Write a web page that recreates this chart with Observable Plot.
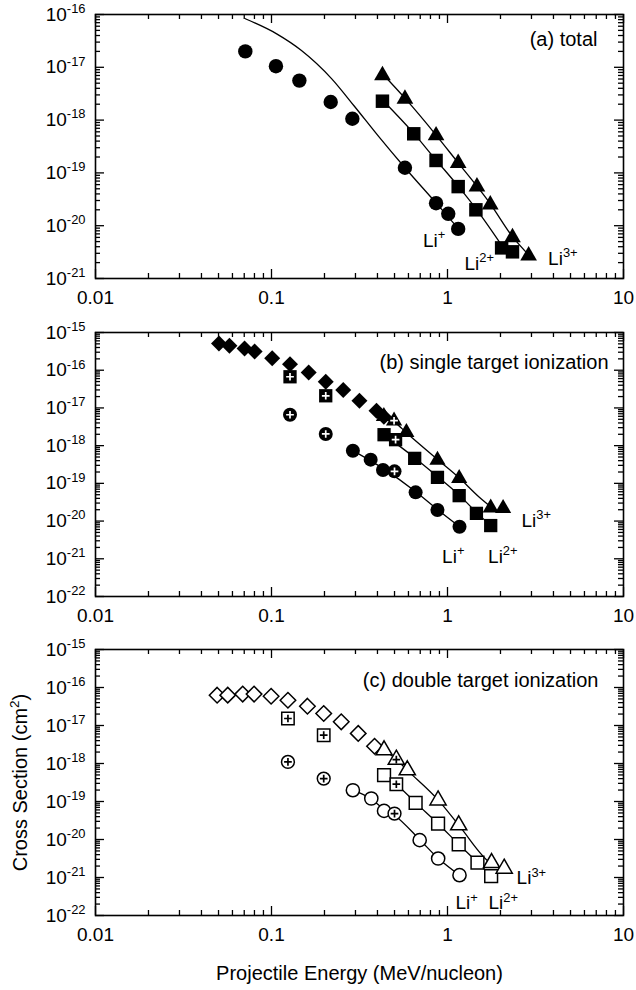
<!DOCTYPE html>
<html><head><meta charset="utf-8">
<script src="https://cdn.jsdelivr.net/npm/d3@7"></script>
<script src="https://cdn.jsdelivr.net/npm/@observablehq/plot@0.6"></script>
<style>
body{margin:0;background:#fff;overflow:hidden;}
#chart{width:636px;height:990px;}
#chart svg{display:block;}
</style></head><body><div id="chart"></div>
<script>
// ---------- axes / text ----------
const xTicks = [0.01, 0.1, 1, 10];
const xTickLabels = ["0.01", "0.1", "1", "10"];
const panelTitles = ["(a) total", "(b) single target ionization", "(c) double target ionization"];
const yDomains = [[1e-21, 1e-16], [1e-22, 1e-15], [1e-22, 1e-15]];
const xTitle = "Projectile Energy (MeV/nucleon)";
const yTitle = "Cross Section (cm^2)";
const ionLabels = ["Li^+", "Li^2+", "Li^3+"];

// ---------- panel (a) total ----------
const aLi1E = [0.071, 0.106, 0.144, 0.217, 0.288, 0.573, 0.861, 1.01, 1.15];
const aLi1S = [2.0e-17, 1.05e-17, 5.6e-18, 2.2e-18, 1.06e-18, 1.25e-19, 2.67e-20, 1.68e-20, 8.7e-21];
const aLi2E = [0.427, 0.643, 0.861, 1.15, 1.45, 2.03, 2.34];
const aLi2S = [2.28e-18, 5.5e-19, 1.72e-19, 5.5e-20, 2.0e-20, 3.8e-21, 3.2e-21];
const aLi3E = [0.427, 0.573, 0.861, 1.15, 1.47, 1.75, 2.34, 2.89];
const aLi3S = [7.0e-18, 2.53e-18, 5.1e-19, 1.53e-19, 5.5e-20, 2.5e-20, 6.0e-21, 2.7e-21];
const aTh1E = [0.071, 0.107, 0.148, 0.22, 0.295, 0.406, 0.573, 0.863, 1.156];
const aTh1S = [8.3e-17, 4.3e-17, 2.08e-17, 6.05e-18, 1.85e-18, 4.9e-19, 1.25e-19, 2.67e-20, 8.7e-21];
const aTh2E = [0.427, 0.643, 0.861, 1.15, 1.45, 2.1];
const aTh2S = [2.4e-18, 5.6e-19, 1.75e-19, 5.6e-20, 2.1e-20, 3.6e-21];
const aTh3E = [0.42, 0.573, 0.861, 1.15, 1.47, 1.75, 2.34, 2.89];
const aTh3S = [8.0e-18, 2.6e-18, 5.2e-19, 1.55e-19, 5.6e-20, 2.6e-20, 6.2e-21, 2.8e-21];
const aLabE = [0.726, 1.248, 3.73];
const aLabS = [5.2e-21, 1.92e-21, 2.39e-21];

// ---------- panel (b) single target ionization ----------
const bDiaE = [0.0503, 0.0577, 0.0703, 0.0802, 0.1009, 0.1274, 0.1627, 0.2033, 0.2556, 0.316, 0.395, 0.435];
const bDiaS = [5.12e-16, 4.44e-16, 3.78e-16, 3.14e-16, 2.09e-16, 1.45e-16, 8.73e-17, 4.94e-17, 2.97e-17, 1.55e-17, 8.43e-18, 5.85e-18];
const bLi1E = [0.290, 0.366, 0.430, 0.659, 0.877, 1.17];
const bLi1S = [7.35e-19, 4.25e-19, 2.27e-19, 5.78e-20, 1.97e-20, 7.1e-21];
const bLi1pE = [0.1274, 0.2033, 0.50];
const bLi1pS = [6.6e-18, 2.04e-18, 2.08e-19];
const bLi2E = [0.436, 0.651, 0.877, 1.165, 1.46, 1.76];
const bLi2S = [1.95e-18, 4.6e-19, 1.44e-19, 4.72e-20, 1.6e-20, 7.6e-21];
const bLi2pE = [0.1274, 0.2033, 0.507];
const bLi2pS = [6.7e-17, 2.1e-17, 1.44e-18];
const bLi3E = [0.435, 0.584, 0.877, 1.165, 1.76, 2.07];
const bLi3S = [6.0e-18, 2.24e-18, 4.17e-19, 1.36e-19, 2.23e-20, 2.19e-20];
const bLi3pE = [0.497];
const bLi3pS = [4.58e-18];
const bTh1E = [0.29, 0.43, 0.66, 0.88, 1.17];
const bTh1S = [7.4e-19, 2.5e-19, 6.0e-20, 2.0e-20, 7.1e-21];
const bTh2E = [0.44, 0.65, 0.88, 1.17, 1.46, 1.76];
const bTh2S = [1.9e-18, 4.8e-19, 1.5e-19, 4.8e-20, 1.7e-20, 7.6e-21];
const bTh3E = [0.45, 0.5, 0.584, 0.877, 1.165, 1.5, 1.76];
const bTh3S = [5.5e-18, 4.2e-18, 2.2e-18, 4.3e-19, 1.4e-19, 4.5e-20, 2.4e-20];
const bLabE = [0.932, 1.70, 2.63];
const bLabS = [1.14e-21, 1.14e-21, 1.03e-20];

// ---------- panel (c) double target ionization ----------
const cDiaE = [0.0491, 0.0564, 0.0686, 0.0796, 0.0995, 0.124, 0.160, 0.198, 0.249, 0.311, 0.385];
const cDiaS = [6.27e-17, 6.3e-17, 6.7e-17, 6.7e-17, 5.9e-17, 4.63e-17, 3.22e-17, 2.07e-17, 1.25e-17, 6.2e-18, 2.85e-18];
const cLi1E = [0.290, 0.369, 0.436, 0.695, 0.885, 1.17];
const cLi1S = [1.98e-19, 1.2e-19, 5.66e-20, 9.6e-21, 3.16e-21, 1.15e-21];
const cLi1pE = [0.124, 0.198, 0.50];
const cLi1pS = [1.1e-18, 4.0e-19, 4.8e-20];
const cLi2E = [0.436, 0.659, 0.884, 1.158, 1.48, 1.77];
const cLi2S = [4.92e-19, 9.2e-20, 2.63e-20, 7.5e-21, 2.48e-21, 1.08e-21];
const cLi2pE = [0.124, 0.198, 0.512];
const cLi2pS = [1.53e-17, 5.56e-18, 2.85e-19];
const cLi3E = [0.436, 0.591, 0.884, 1.158, 1.78, 2.10];
const cLi3S = [2.24e-18, 6.7e-19, 1.08e-19, 2.38e-20, 2.42e-21, 1.72e-21];
const cLi3pE = [0.512];
const cLi3pS = [1.27e-18];
const cTh1E = [0.29, 0.37, 0.44, 0.5, 0.7, 0.885, 1.17];
const cTh1S = [1.98e-19, 1.15e-19, 6.0e-20, 4.3e-20, 9.6e-21, 3.2e-21, 1.15e-21];
const cTh2E = [0.44, 0.51, 0.66, 0.884, 1.158, 1.48, 1.77];
const cTh2S = [4.9e-19, 2.9e-19, 9.2e-20, 2.6e-20, 7.5e-21, 2.5e-21, 1.1e-21];
const cTh3E = [0.44, 0.51, 0.59, 0.884, 1.158, 1.78, 2.1];
const cTh3S = [2.2e-18, 1.3e-18, 6.7e-19, 1.1e-19, 2.4e-20, 2.3e-21, 1.7e-21];
const cLabE = [1.109, 1.71, 2.47];
const cLabS = [2.11e-22, 2.11e-22, 9.6e-22];

// ---------- helpers ----------
const FONT = "'Liberation Sans', Arial, Helvetica, sans-serif";
const rows = (E, S) => E.map((e, i) => ({e, s: S[i]}));
const labRows = (E, S) => E.map((e, i) => ({e, s: S[i], t: ionLabels[i]}));

function filled(E, S, symbol, r) {
  return Plot.dot(rows(E, S), {x: "e", y: "s", symbol, r, fill: "black", stroke: "none"});
}
function open(E, S, symbol, r) {
  return Plot.dot(rows(E, S), {x: "e", y: "s", symbol, r, fill: "white", stroke: "black", strokeWidth: 1.5});
}
function plus(E, S, color) {
  return Plot.dot(rows(E, S), {x: "e", y: "s", symbol: "plus", r: 2.6, stroke: color, strokeWidth: 1.7});
}
function theory(E, S) {
  return Plot.line(rows(E, S), {x: "e", y: "s", stroke: "black", strokeWidth: 1.3, curve: "monotone-x"});
}

function supify(svg) {
  d3.select(svg).selectAll("text").each(function () {
    if (this.querySelector("tspan")) return;
    const m = this.textContent.match(/^(.*?)\^([0-9+\-]+)(.*)$/);
    if (!m) return;
    const sel = d3.select(this);
    this.textContent = "";
    sel.append("tspan").text(m[1]);
    sel.append("tspan").attr("dy", "-0.6em").attr("font-size", "0.68em").text(m[2]);
    if (m[3]) sel.append("tspan").attr("dy", "0.41em").text(m[3]);
  });
}

function panel(p) {
  const W = 636, mL = 95, mR = 13;
  const fw = W - mL - mR, fh = p.height - p.marginTop - p.marginBottom;
  const xMinor = [];
  for (const d of xTicks.slice(0, -1)) for (let k = 2; k <= 9; k++) xMinor.push(d * k);
  const lo = Math.round(Math.log10(p.yDomain[0])), hi = Math.round(Math.log10(p.yDomain[1]));
  const yMajor = d3.range(lo, hi + 1).map(k => Math.pow(10, k));
  const yMinor = [];
  for (const d of yMajor.slice(0, -1)) for (let k = 2; k <= 9; k++) yMinor.push(d * k);
  const MJ = 9, MN = 5, tw = 1.3;
  const marks = [
    Plot.tickX(xTicks, {x: d => d, insetTop: fh - MJ, stroke: "black", strokeWidth: tw}),
    Plot.tickX(xTicks, {x: d => d, insetBottom: fh - MJ, stroke: "black", strokeWidth: tw}),
    Plot.tickX(xMinor, {x: d => d, insetTop: fh - MN, stroke: "black", strokeWidth: tw}),
    Plot.tickX(xMinor, {x: d => d, insetBottom: fh - MN, stroke: "black", strokeWidth: tw}),
    Plot.tickY(yMajor, {y: d => d, insetRight: fw - MJ, stroke: "black", strokeWidth: tw}),
    Plot.tickY(yMajor, {y: d => d, insetLeft: fw - MJ, stroke: "black", strokeWidth: tw}),
    Plot.tickY(yMinor, {y: d => d, insetRight: fw - MN, stroke: "black", strokeWidth: tw}),
    Plot.tickY(yMinor, {y: d => d, insetLeft: fw - MN, stroke: "black", strokeWidth: tw}),
    Plot.axisX({ticks: xTicks, tickFormat: d => xTickLabels[xTicks.indexOf(d)], tickSize: 0, tickPadding: 12, fontSize: 19, label: null}),
    Plot.axisY({ticks: yMajor, tickFormat: d => "10^" + Math.round(Math.log10(d)), tickSize: 0, tickPadding: 10, fontSize: 19, label: null}),
    ...p.marks,
    Plot.text(p.labels, {x: "e", y: "s", text: "t", textAnchor: "start", fontSize: 19, fill: "black"}),
    Plot.text([p.title], {text: d => d, frameAnchor: "top-right", dx: -p.tdx, dy: p.tdy, textAnchor: "end", lineAnchor: "top", fontSize: 20, fill: "black"}),
    Plot.frame({stroke: "black", strokeWidth: 1.6}),
    ...(p.extra || [])
  ];
  const svg = Plot.plot({
    width: W, height: p.height,
    marginLeft: mL, marginRight: mR, marginTop: p.marginTop, marginBottom: p.marginBottom,
    x: {type: "log", domain: [0.01, 10]},
    y: {type: "log", domain: p.yDomain},
    style: {fontFamily: FONT, fontSize: "19px", color: "black", background: "white", overflow: "visible"},
    marks
  });
  supify(svg);
  return svg;
}

const chart = document.getElementById("chart");

chart.append(panel({
  title: panelTitles[0], yDomain: yDomains[0], height: 318, marginTop: 14, marginBottom: 40, tdx: 26, tdy: 17,
  labels: labRows(aLabE, aLabS),
  marks: [
    theory(aTh1E, aTh1S), theory(aTh2E, aTh2S), theory(aTh3E, aTh3S),
    filled(aLi1E, aLi1S, "circle", 7.2),
    filled(aLi2E, aLi2S, "square", 7.6),
    filled(aLi3E, aLi3S, "triangle", 6.2)
  ]
}));

chart.append(panel({
  title: panelTitles[1], yDomain: yDomains[1], height: 318, marginTop: 14, marginBottom: 40, tdx: 15, tdy: 22,
  labels: labRows(bLabE, bLabS),
  marks: [
    theory(bTh1E, bTh1S), theory(bTh2E, bTh2S), theory(bTh3E, bTh3S),
    filled(bDiaE, bDiaS, "diamond2", 7.2),
    filled(bLi1E, bLi1S, "circle", 7.0),
    filled(bLi2E, bLi2S, "square", 7.5),
    filled(bLi3E, bLi3S, "triangle", 6.0),
    filled(bLi1pE, bLi1pS, "circle", 7.0),
    filled(bLi2pE, bLi2pS, "square", 7.5),
    filled(bLi3pE, bLi3pS, "triangle", 6.0),
    plus(bLi1pE, bLi1pS, "white"), plus(bLi2pE, bLi2pS, "white"), plus(bLi3pE, bLi3pS, "white")
  ]
}));

chart.append(panel({
  title: panelTitles[2], yDomain: yDomains[2], height: 354, marginTop: 13, marginBottom: 75, tdx: 25, tdy: 23,
  labels: labRows(cLabE, cLabS),
  marks: [
    theory(cTh1E, cTh1S), theory(cTh2E, cTh2S), theory(cTh3E, cTh3S),
    open(cDiaE, cDiaS, "diamond2", 7.0),
    open(cLi1E, cLi1S, "circle", 6.6),
    open(cLi2E, cLi2S, "square", 7.2),
    open(cLi3E, cLi3S, "triangle", 6.0),
    open(cLi1pE, cLi1pS, "circle", 6.4),
    open(cLi2pE, cLi2pS, "square", 7.0),
    open(cLi3pE, cLi3pS, "triangle", 6.0),
    plus(cLi1pE, cLi1pS, "black"), plus(cLi2pE, cLi2pS, "black"), plus(cLi3pE, cLi3pS, "black")
  ],
  extra: [
    Plot.text([xTitle], {text: d => d, frameAnchor: "bottom", dy: 50, lineAnchor: "top", textAnchor: "middle", fontSize: 20, fill: "black"}),
    Plot.text([yTitle], {text: d => d, frameAnchor: "left", dx: -75, rotate: -90, textAnchor: "middle", lineAnchor: "middle", fontSize: 20, fill: "black"})
  ]
}));
</script>
</body></html>
